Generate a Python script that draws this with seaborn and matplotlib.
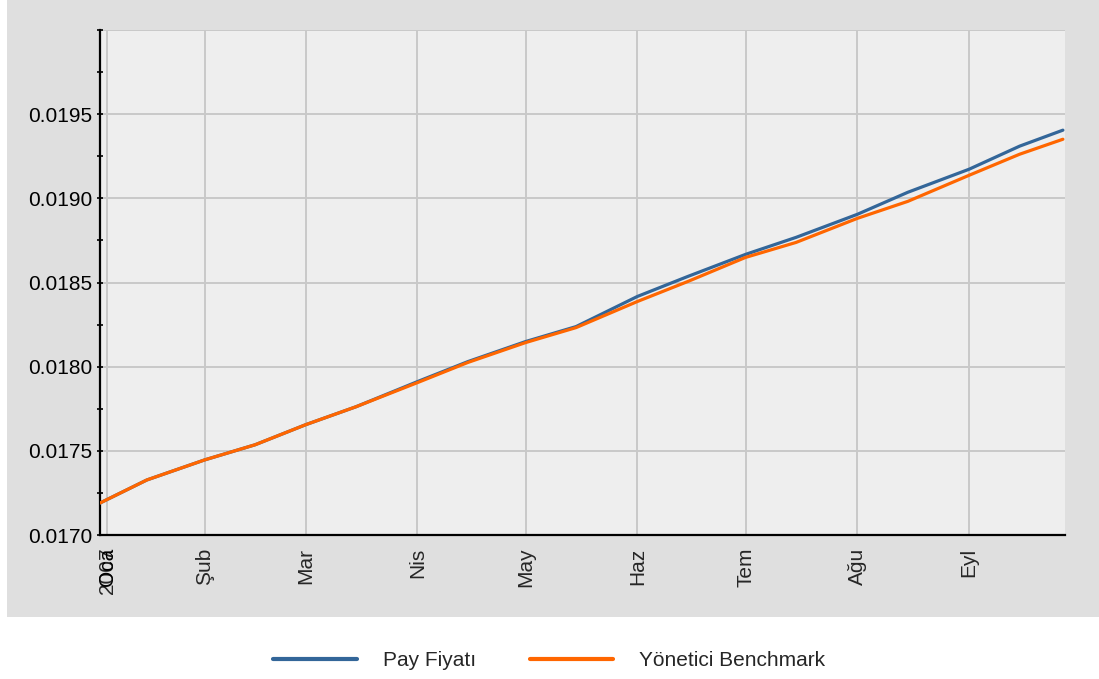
import pandas as pd
import matplotlib.pyplot as plt
import matplotlib.dates as mdates
from matplotlib.patches import Rectangle
from matplotlib.ticker import MultipleLocator, FuncFormatter
import seaborn as sns

# values (semi-monthly)
dates = ["2007-01-03", "2007-01-16", "2007-02-01", "2007-02-15", "2007-03-01", "2007-03-15",
         "2007-04-01", "2007-04-15", "2007-05-01", "2007-05-15", "2007-06-01", "2007-06-15",
         "2007-07-01", "2007-07-15", "2007-08-01", "2007-08-15", "2007-09-01", "2007-09-15",
         "2007-09-27"]
pay_fiyati = [0.017190, 0.017327, 0.017446, 0.017536, 0.017655, 0.017762,
              0.017911, 0.018030, 0.018149, 0.018238, 0.018417, 0.018536,
              0.018667, 0.018768, 0.018905, 0.019036, 0.019173, 0.019310,
              0.019405]
benchmark = [0.017190, 0.017327, 0.017446, 0.017536, 0.017655, 0.017762,
             0.017905, 0.018025, 0.018143, 0.018232, 0.018387, 0.018506,
             0.018649, 0.018738, 0.018881, 0.018982, 0.019137, 0.019262,
             0.019351]

tick_dates = ["2007-01-05", "2007-02-01", "2007-03-01", "2007-04-01",
              "2007-05-01", "2007-06-01", "2007-07-01", "2007-08-01", "2007-09-01"]
tick_labels = ["2007", "Şub", "Mar", "Nis", "May", "Haz", "Tem", "Ağu", "Eyl"]
first_month = "Oca"  # drawn on top of the "2007" label, as in the original

series_names = ["Pay Fiyatı", "Yönetici Benchmark"]
colors = ["#336699", "#ff6600"]

df = pd.DataFrame({
    "Tarih": pd.to_datetime(dates * 2),
    "Değer": pay_fiyati + benchmark,
    "Seri": [series_names[0]] * len(dates) + [series_names[1]] * len(dates),
})

sns.set_style("white")
plt.rcParams["font.family"] = ["Liberation Sans", "DejaVu Sans"]

fig = plt.figure(figsize=(10.99, 6.79), dpi=100)
fig.patch.set_facecolor("white")
# grey panel behind the plot area
fig.patches.append(Rectangle((7 / 1099, 62 / 679), 1 - 7 / 1099, 1 - 62 / 679,
                             transform=fig.transFigure, facecolor="#dfdfdf",
                             edgecolor="none", zorder=-10))

ax = fig.add_axes([100 / 1099, 144 / 679, 965 / 1099, 505 / 679])
ax.set_zorder(2)
ax.set_facecolor("#eeeeee")

sns.lineplot(data=df, x="Tarih", y="Değer", hue="Seri", palette=colors,
             linewidth=2.3, ax=ax, legend=False, zorder=3)

ax.set_xlim(pd.Timestamp("2007-01-03"), pd.Timestamp("2007-09-27 14:00"))
ax.set_ylim(0.0170, 0.0200)

ax.yaxis.set_major_locator(MultipleLocator(0.0005))
ax.yaxis.set_minor_locator(MultipleLocator(0.00025))
ax.yaxis.set_major_formatter(FuncFormatter(lambda v, p: "" if v > 0.01999 else f"{v:.4f}"))
ax.set_xticks(mdates.date2num(pd.to_datetime(tick_dates)))
ax.set_xticklabels(tick_labels, rotation=90, va="top", ha="center")

ax.annotate(first_month, xy=(mdates.date2num(pd.Timestamp(tick_dates[0])), 0),
            xycoords=("data", "axes fraction"), xytext=(0, -9),
            textcoords="offset points", rotation=90, ha="center", va="top",
            fontsize=15, color="black")

ax.tick_params(axis="y", which="both", direction="inout", length=5, width=1.2,
               left=True, labelsize=15, colors="black", pad=3)
ax.tick_params(axis="x", length=0, labelsize=15, pad=9)

ax.grid(True, which="major", color="#c8c8c8", linewidth=1.4)
ax.set_axisbelow(True)

for side in ["top", "right"]:
    ax.spines[side].set_visible(False)
for side in ["left", "bottom"]:
    ax.spines[side].set_color("black")
    ax.spines[side].set_linewidth(1.6)

ax.set_xlabel("")
ax.set_ylabel("")

handles = [plt.Line2D([], [], color=c, linewidth=3) for c in colors]
fig.legend(handles, series_names, loc="center", bbox_to_anchor=(0.5, 18 / 679),
           ncol=2, frameon=False, fontsize=15, handlelength=4.0,
           handletextpad=1.25, columnspacing=2.6)

fig.savefig("out.png", dpi=100)
